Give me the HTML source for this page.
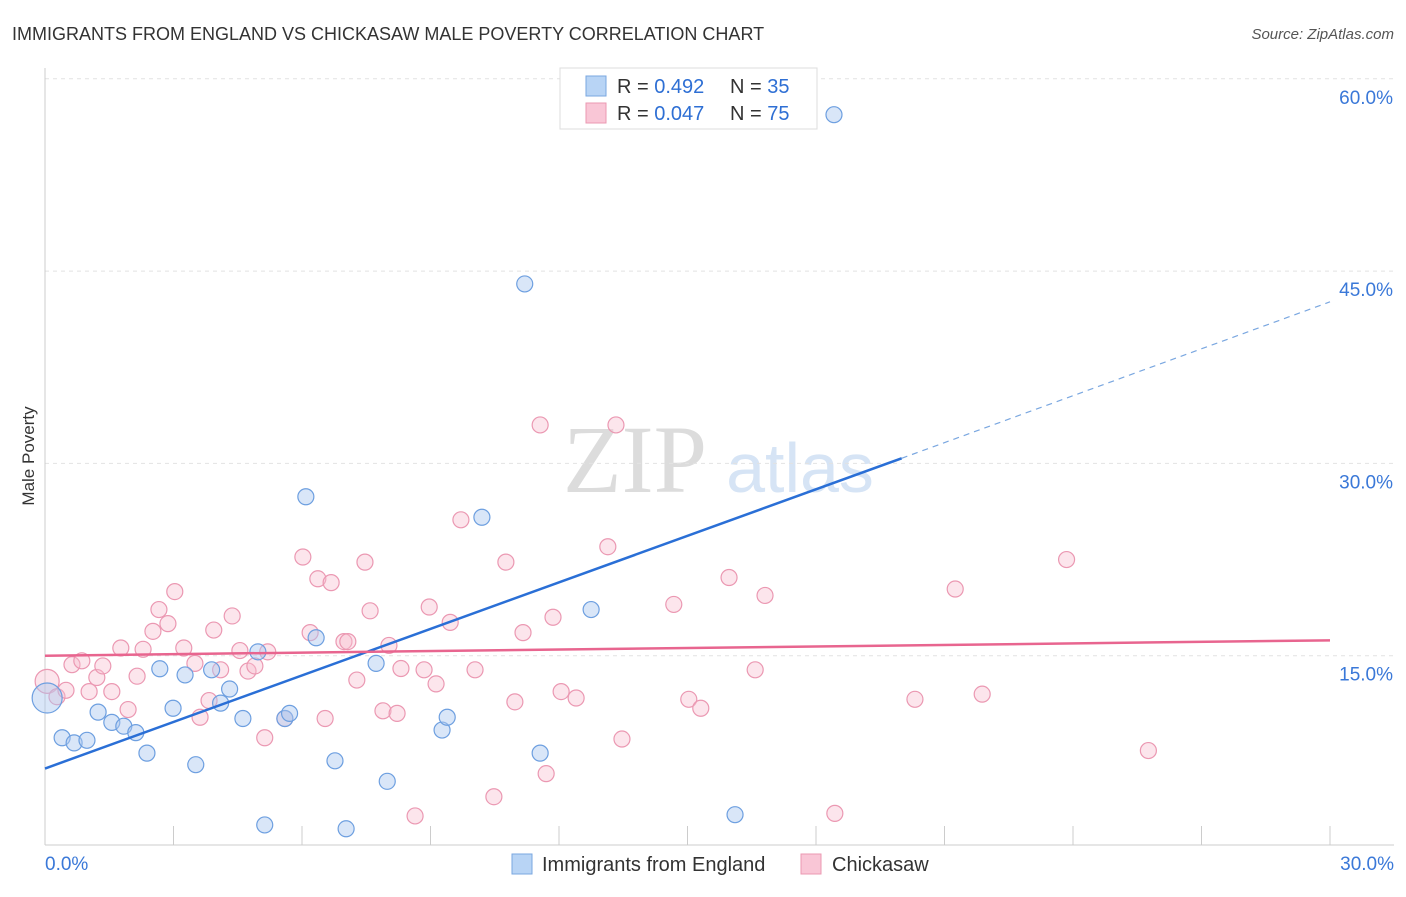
<!DOCTYPE html>
<html><head><meta charset="utf-8"><style>
body{margin:0;background:#fff;font-family:"Liberation Sans",sans-serif;}
svg text{font-family:"Liberation Sans",sans-serif;}
</style></head><body>
<svg width="1406" height="892" id="c">
<text x="12" y="40" font-size="18" fill="#333">IMMIGRANTS FROM ENGLAND VS CHICKASAW MALE POVERTY CORRELATION CHART</text>
<text x="1394" y="39" font-size="15" fill="#555" font-style="italic" text-anchor="end">Source: ZipAtlas.com</text>
<text x="34" y="456" font-size="17" fill="#333" transform="rotate(-90 34 456)" text-anchor="middle">Male Poverty</text>
<text x="635" y="492" font-size="96" fill="#dcdcdc" style="font-family:'Liberation Serif',serif" text-anchor="middle">ZIP</text>
<text x="800" y="492" font-size="70" fill="#d6e4f5" text-anchor="middle">atlas</text>
<g id="grid"></g><g id="pts"></g><g id="lines"></g>
<g>
<rect x="560" y="68" width="257" height="61" fill="#fff" stroke="#ddd"/>
<rect x="586" y="76" width="20" height="20" fill="#b8d4f5" stroke="#7aa7e0"/>
<text x="617" y="93" font-size="20" fill="#333">R = <tspan fill="#2e6fd4">0.492</tspan></text>
<text x="730" y="93" font-size="20" fill="#333">N = <tspan fill="#2e6fd4">35</tspan></text>
<rect x="586" y="103" width="20" height="20" fill="#f9c6d6" stroke="#eb98b2"/>
<text x="617" y="120" font-size="20" fill="#333">R = <tspan fill="#2e6fd4">0.047</tspan></text>
<text x="730" y="120" font-size="20" fill="#333">N = <tspan fill="#2e6fd4">75</tspan></text>
</g>
<g>
<rect x="512" y="854" width="20" height="20" fill="#b8d4f5" stroke="#7aa7e0"/>
<text x="542" y="871" font-size="20" fill="#333">Immigrants from England</text>
<rect x="801" y="854" width="20" height="20" fill="#f9c6d6" stroke="#eb98b2"/>
<text x="832" y="871" font-size="20" fill="#333">Chickasaw</text>
</g>
</svg>
<script>
const yTicks=[15,30,45,60];
const xTickLabels=["0.0%","30.0%"];
const blueX=[0.05,0.4,0.68,0.98,1.24,1.56,1.84,2.12,2.38,2.68,2.99,3.27,3.52,3.89,4.1,4.31,4.62,4.97,5.13,5.6,5.71,6.09,6.33,6.77,7.03,7.73,7.99,9.27,9.39,10.2,11.2,11.56,12.75,16.11,18.42];
const blueY=[11.7,8.6,8.2,8.4,10.6,9.8,9.5,9.0,7.4,13.98,10.9,13.5,6.5,13.9,11.3,12.4,10.1,15.3,1.8,10.1,10.5,27.4,16.4,6.8,1.5,14.4,5.2,9.2,10.2,25.8,44.0,7.4,18.6,2.6,57.2];
const pinkX=[0.05,0.28,0.49,0.63,0.86,1.03,1.21,1.35,1.56,1.77,1.94,2.15,2.29,2.52,2.66,2.87,3.03,3.24,3.5,3.62,3.83,3.94,4.1,4.37,4.55,4.74,4.9,5.13,5.2,5.6,6.02,6.19,6.37,6.54,6.68,6.98,7.07,7.28,7.47,7.59,7.89,8.03,8.22,8.31,8.64,8.85,8.97,9.13,9.46,9.71,10.04,10.48,10.76,10.97,11.16,11.56,11.7,11.86,12.05,12.4,13.14,13.33,13.47,14.68,15.03,15.31,15.97,16.58,16.81,18.44,20.31,21.25,21.88,23.85,25.76];
const pinkY=[13.0,11.8,12.3,14.3,14.6,12.2,13.3,14.2,12.2,15.6,10.8,13.4,15.5,16.9,18.6,17.5,20.0,15.6,14.4,10.2,11.5,17.0,13.9,18.1,15.4,13.8,14.2,8.6,15.3,10.1,22.7,16.8,21.0,10.1,20.7,16.1,16.1,13.1,22.3,18.5,10.7,15.8,10.5,14.0,2.5,13.9,18.8,12.8,17.6,25.6,13.9,4.0,22.3,11.4,16.8,33.0,5.8,18.0,12.2,11.7,23.5,33.0,8.5,19.0,11.6,10.9,21.1,13.9,19.7,2.7,11.6,20.2,12.0,22.5,7.6];
const blueLine=[[0,6.2],[20,30.4]];
const blueDash=[[20,30.4],[30,42.6]];
const pinkLine=[[0,15.0],[30,16.2]];
const NS="http://www.w3.org/2000/svg";
const xs=v=>45+v/30*1285, ys=v=>848-v/15*192.3;
function mk(t,a,p){const e=document.createElementNS(NS,t);for(const k in a)e.setAttribute(k,a[k]);p.appendChild(e);return e;}
const g=document.getElementById('grid');
yTicks.forEach(t=>{
 const l=mk('line',{x1:45,x2:1394,y1:ys(t),y2:ys(t),stroke:'#e2e2e2','stroke-dasharray':'4 4'},g);
 
 const tx=mk('text',{x:1393,y:ys(t)+25,'font-size':19,fill:'#3a78d8','text-anchor':'end'},g);tx.textContent=t.toFixed(1)+'%';
 
});
const ax=mk('line',{x1:45,x2:1394,y1:845,y2:845,stroke:'#ccc'},g);

const ay=mk('line',{x1:45,x2:45,y1:68,y2:845,stroke:'#ccc'},g);

for(let i=1;i<=10;i++){const t=mk('line',{x1:xs(i*3),x2:xs(i*3),y1:826,y2:845,stroke:'#ccc'},g);
 }
const xl0=mk('text',{x:45,y:870,'font-size':19,fill:'#3a78d8'},g);xl0.textContent=xTickLabels[0];

const xl1=mk('text',{x:1394,y:870,'font-size':19,fill:'#3a78d8','text-anchor':'end'},g);xl1.textContent=xTickLabels[1];

const p=document.getElementById('pts');
pinkX.forEach((x,i)=>{const c=mk('circle',{cx:xs(x),cy:ys(pinkY[i]),r:i==0?12:8,fill:'rgba(248,190,208,0.4)',stroke:'#eb98b2','stroke-width':1.2},p);
 });
blueX.forEach((x,i)=>{const c=mk('circle',{cx:xs(x),cy:ys(blueY[i]),r:i==0?15:8,fill:'rgba(170,200,240,0.45)',stroke:'#6d9fe0','stroke-width':1.2},p);
 });
const L=document.getElementById('lines');
const b=mk('line',{x1:xs(blueLine[0][0]),y1:ys(blueLine[0][1]),x2:xs(blueLine[1][0]),y2:ys(blueLine[1][1]),stroke:'#2a6fd6','stroke-width':2.5},L);

const bd=mk('line',{x1:xs(blueDash[0][0]),y1:ys(blueDash[0][1]),x2:xs(blueDash[1][0]),y2:ys(blueDash[1][1]),stroke:'#7aa7e0','stroke-width':1.2,'stroke-dasharray':'6 5'},L);

const pl=mk('line',{x1:xs(pinkLine[0][0]),y1:ys(pinkLine[0][1]),x2:xs(pinkLine[1][0]),y2:ys(pinkLine[1][1]),stroke:'#e8658f','stroke-width':2.5},L);

</script>
</body></html>
